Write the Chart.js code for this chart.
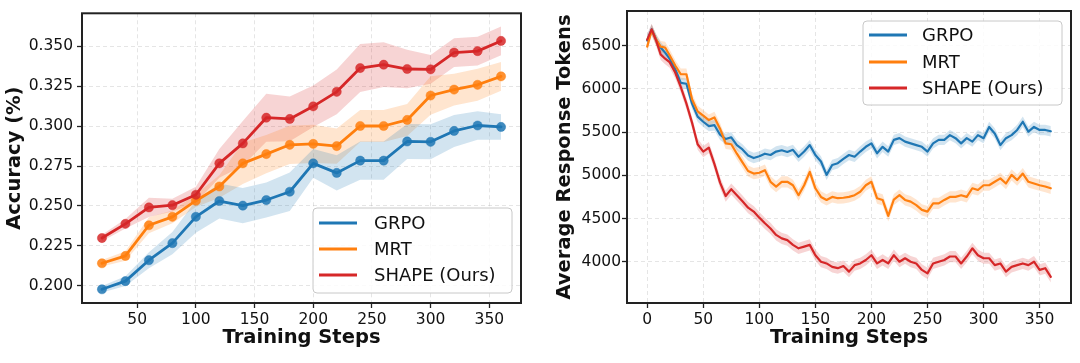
<!DOCTYPE html>
<html><head><meta charset="utf-8">
<script src="https://cdn.jsdelivr.net/npm/chart.js@4.4.1/dist/chart.umd.min.js"></script>
<style>
html,body{margin:0;padding:0;background:#fff;}
#wrap{position:relative;width:1080px;height:363px;overflow:hidden;}
.c{position:absolute;top:0;width:540px;height:363px;}
</style></head><body>
<div id="wrap">
<div class="c" style="left:0"><canvas id="acc" width="540" height="363"></canvas></div>
<div class="c" style="left:540px"><canvas id="tok" width="540" height="363"></canvas></div>
</div>
<script>
// ---------- shared ----------
const seriesNames = ['GRPO', 'MRT', 'SHAPE (Ours)'];
const seriesColors = ['#1f77b4', '#ff7f0e', '#d62728'];

// ---------- left chart: accuracy ----------
const accSteps = [20,40,60,80,100,120,140,160,180,200,220,240,260,280,300,320,340,360];
const accGRPO  = [0.1978,0.2029,0.2160,0.2267,0.2432,0.2531,0.2502,0.2537,0.2589,0.2767,0.2707,0.2784,0.2784,0.2904,0.2902,0.2970,0.3004,0.2995];
const accMRT   = [0.2141,0.2187,0.2379,0.2432,0.2533,0.2622,0.2767,0.2825,0.2883,0.2889,0.2875,0.3001,0.3001,0.3039,0.3192,0.3229,0.3259,0.3312];
const accSHAPE = [0.2299,0.2388,0.2491,0.2505,0.2570,0.2767,0.2892,0.3053,0.3045,0.3124,0.3215,0.3364,0.3385,0.3358,0.3356,0.3461,0.3470,0.3534];
// half-width of the shaded band around each accuracy curve
const accGRPOSpread  = [0.002,0.003,0.005,0.007,0.010,0.011,0.011,0.011,0.012,0.009,0.011,0.012,0.012,0.011,0.011,0.010,0.009,0.008];
const accMRTSpread   = [0.002,0.003,0.005,0.004,0.004,0.007,0.013,0.012,0.012,0.012,0.011,0.010,0.010,0.010,0.012,0.010,0.010,0.009];
const accSHAPESpread = [0.002,0.003,0.006,0.004,0.005,0.009,0.014,0.015,0.014,0.013,0.014,0.015,0.014,0.012,0.009,0.009,0.009,0.009];
const accXTicks = [50,100,150,200,250,300,350];
const accYTicks = [0.200,0.225,0.250,0.275,0.300,0.325,0.350];

// ---------- right chart: response tokens ----------
const tokSteps = [0,4,8,12,16,20,25,30,35,40,45,50,55,60,65,70,75,80,85,90,95,100,
  105,110,115,120,125,130,135,140,145,150,155,160,165,170,175,180,185,190,195,200,
  205,210,215,220,225,230,235,240,245,250,255,260,265,270,275,280,285,290,295,300,
  305,310,315,320,325,330,335,340,345,350,355,360];
const tokGRPO = [6560,6690,6570,6480,6420,6350,6230,6070,6060,5830,5680,5620,5570,5580,5470,5420,5440,5350,5300,5230,5200,5220,
  5250,5235,5275,5290,5270,5295,5215,5275,5350,5235,5160,5005,5120,5140,5190,5235,5215,5275,5330,5370,
  5255,5330,5275,5410,5430,5390,5370,5350,5330,5275,5370,5410,5410,5465,5430,5370,5430,5390,5465,5430,
  5560,5485,5350,5430,5465,5525,5620,5505,5560,5525,5525,5510];
const tokMRT = [6490,6680,6570,6490,6480,6390,6270,6170,6170,5880,5740,5690,5640,5670,5540,5370,5360,5250,5150,5050,5020,5030,
  5060,4925,4870,4925,4925,4885,4770,4885,5040,4850,4750,4715,4750,4735,4740,4750,4770,4810,4885,4925,
  4735,4715,4530,4720,4770,4715,4695,4655,4600,4580,4675,4675,4715,4750,4750,4770,4750,4850,4830,4885,
  4885,4925,4965,4905,5005,4945,5020,4925,4905,4885,4870,4850];
const tokSHAPE = [6570,6690,6560,6400,6350,6310,6190,6020,5830,5610,5360,5275,5320,5130,4915,4760,4840,4770,4700,4625,4580,4510,
  4445,4385,4310,4270,4250,4195,4155,4175,4195,4075,4000,3980,3940,3925,3950,3885,3960,3980,4020,4075,
  3980,4020,3980,4075,4000,4040,4000,3980,3905,3865,3980,4000,4020,4060,4060,3980,4060,4155,4075,4040,
  4040,3960,3980,3885,3940,3960,3980,3960,4000,3905,3925,3825];
const tokSpread = [60, 65, 65]; // half-width of shaded band per series
const tokXTicks = [0,50,100,150,200,250,300,350];
const tokYTicks = [4000,4500,5000,5500,6000,6500];

// ---------- helpers ----------
function rgba(hex, a){
  const n = parseInt(hex.slice(1),16);
  return `rgba(${(n>>16)&255},${(n>>8)&255},${n&255},${a})`;
}
const FONT = "'DejaVu Sans', 'Liberation Sans', sans-serif";

function buildDatasets(steps, seriesList, spreadList, withMarkers, lineW){
  const mains = [], bands = [];
  seriesList.forEach((vals, k) => {
    const col = seriesColors[k];
    mains.push({
      label: seriesNames[k],
      data: steps.map((x,i)=>({x, y: vals[i]})),
      borderColor: col,
      backgroundColor: col,
      borderWidth: lineW,
      pointRadius: withMarkers ? 4.6 : 0,
      pointHoverRadius: withMarkers ? 4.6 : 0,
      pointBackgroundColor: rgba(col, 0.85),
      pointBorderColor: rgba(col, 0.85),
      pointBorderWidth: 0.5,
      fill: false,
      tension: 0
    });
    const sp = spreadList[k];
    const spreadAt = i => Array.isArray(sp) ? sp[i] : sp;
    bands.push({
      label: '_lo' + k,
      data: steps.map((x,i)=>({x, y: vals[i] - spreadAt(i)})),
      borderWidth: 0, pointRadius: 0, borderColor: 'rgba(0,0,0,0)', fill: false, tension: 0
    });
    bands.push({
      label: '_hi' + k,
      data: steps.map((x,i)=>({x, y: vals[i] + spreadAt(i)})),
      borderWidth: 0, pointRadius: 0, borderColor: 'rgba(0,0,0,0)',
      backgroundColor: rgba(col, 0.2), fill: '-1', tension: 0
    });
  });
  // index 0 drawn on top: SHAPE, MRT, GRPO lines, then bands underneath
  return [mains[2], mains[1], mains[0], ...bands];
}

function frameLegendPlugin(lg){
  return {
    id: 'frameLegend',
    afterDraw(chart){
      const {ctx, chartArea: a} = chart;
      ctx.save();
      // legend box
      ctx.beginPath();
      if (ctx.roundRect) ctx.roundRect(lg.x, lg.y, lg.w, lg.h, 4); else ctx.rect(lg.x, lg.y, lg.w, lg.h);
      ctx.fillStyle = 'rgba(255,255,255,0.85)';
      ctx.fill();
      ctx.strokeStyle = '#c8c8c8';
      ctx.lineWidth = 1;
      ctx.stroke();
      seriesNames.forEach((name, k) => {
        const yy = lg.rows[k];
        ctx.strokeStyle = seriesColors[k];
        ctx.lineWidth = 3;
        ctx.beginPath();
        ctx.moveTo(lg.lx0, yy); ctx.lineTo(lg.lx1, yy);
        ctx.stroke();
        ctx.fillStyle = '#111';
        ctx.font = `18px ${FONT}`;
        ctx.textBaseline = 'middle';
        ctx.textAlign = 'left';
        ctx.fillText(name, lg.tx, yy + 1);
      });
      // axes frame
      ctx.strokeStyle = '#222';
      ctx.lineWidth = 2;
      ctx.strokeRect(a.left, a.top, a.right - a.left, a.bottom - a.top);
      ctx.restore();
    }
  };
}

function makeChart(id, cfg){
  const gridCommon = {
    color: 'rgba(160,160,160,0.35)',
    lineWidth: 0.8,
    tickColor: '#222',
    tickLength: 5,
    tickWidth: 1.3,
    drawTicks: true
  };
  return new Chart(document.getElementById(id), {
    type: 'line',
    data: { datasets: cfg.datasets },
    options: {
      responsive: false,
      animation: false,
      devicePixelRatio: 1,
      layout: { padding: cfg.padding },
      plugins: { legend: { display: false }, tooltip: { enabled: false } },
      elements: { line: { borderCapStyle: 'round', borderJoinStyle: 'round' } },
      scales: {
        x: {
          type: 'linear',
          min: cfg.xMin, max: cfg.xMax,
          afterBuildTicks: s => { s.ticks = cfg.xTicks.map(v => ({value: v})); },
          afterFit: s => { s.height = cfg.xAxisH; },
          grid: { ...gridCommon },
          border: { display: false, dash: [4,3] },
          ticks: { color: '#111', font: { family: FONT, size: 15.5 }, padding: 3, maxRotation: 0,
                   callback: v => String(v) },
          title: { display: true, text: 'Training Steps', color: '#111',
                   font: { family: FONT, size: 19.5, weight: 'bold' }, padding: { top: 0, bottom: cfg.xTitlePad } }
        },
        y: {
          type: 'linear',
          min: cfg.yMin, max: cfg.yMax,
          afterBuildTicks: s => { s.ticks = cfg.yTicks.map(v => ({value: v})); },
          afterFit: s => { s.width = cfg.yAxisW; },
          grid: { ...gridCommon },
          border: { display: false, dash: [4,3] },
          ticks: { color: '#111', font: { family: FONT, size: 15.5 }, padding: cfg.yTickPad,
                   callback: cfg.yFmt },
          title: { display: true, text: cfg.yTitle, color: '#111',
                   font: { family: FONT, size: 19.5, weight: 'bold' }, padding: { top: cfg.yTitlePad, bottom: 0 } }
        }
      }
    },
    plugins: [frameLegendPlugin(cfg.legend)]
  });
}

Chart.defaults.font.family = FONT;

makeChart('acc', {
  datasets: buildDatasets(accSteps, [accGRPO, accMRT, accSHAPE], [accGRPOSpread, accMRTSpread, accSHAPESpread], true, 2.8),
  padding: { left: 0, right: 19, top: 11, bottom: 0 },
  xMin: 3, xMax: 377, yMin: 0.1892, yMax: 0.3707,
  xTicks: accXTicks, yTicks: accYTicks,
  xAxisH: 60, yAxisW: 82, yTickPad: 4, xTitlePad: 13, yTitlePad: 3,
  yTitle: 'Accuracy (%)',
  yFmt: v => Number(v).toFixed(3),
  legend: { x: 313, y: 208, w: 199, h: 85, rows: [223, 249, 275], lx0: 319, lx1: 357, tx: 374 }
});

makeChart('tok', {
  datasets: buildDatasets(tokSteps, [tokGRPO, tokMRT, tokSHAPE], tokSpread, false, 2.2),
  padding: { left: 0, right: 9, top: 11, bottom: 0 },
  xMin: -18, xMax: 378, yMin: 3522, yMax: 6902,
  xTicks: tokXTicks, yTicks: tokYTicks,
  xAxisH: 60, yAxisW: 87, yTickPad: 1, xTitlePad: 13, yTitlePad: 13,
  yTitle: 'Average Response Tokens',
  yFmt: v => String(v),
  legend: { x: 323, y: 21, w: 199, h: 84, rows: [35, 62, 88], lx0: 329, lx1: 367, tx: 382 }
});
</script>
</body></html>
